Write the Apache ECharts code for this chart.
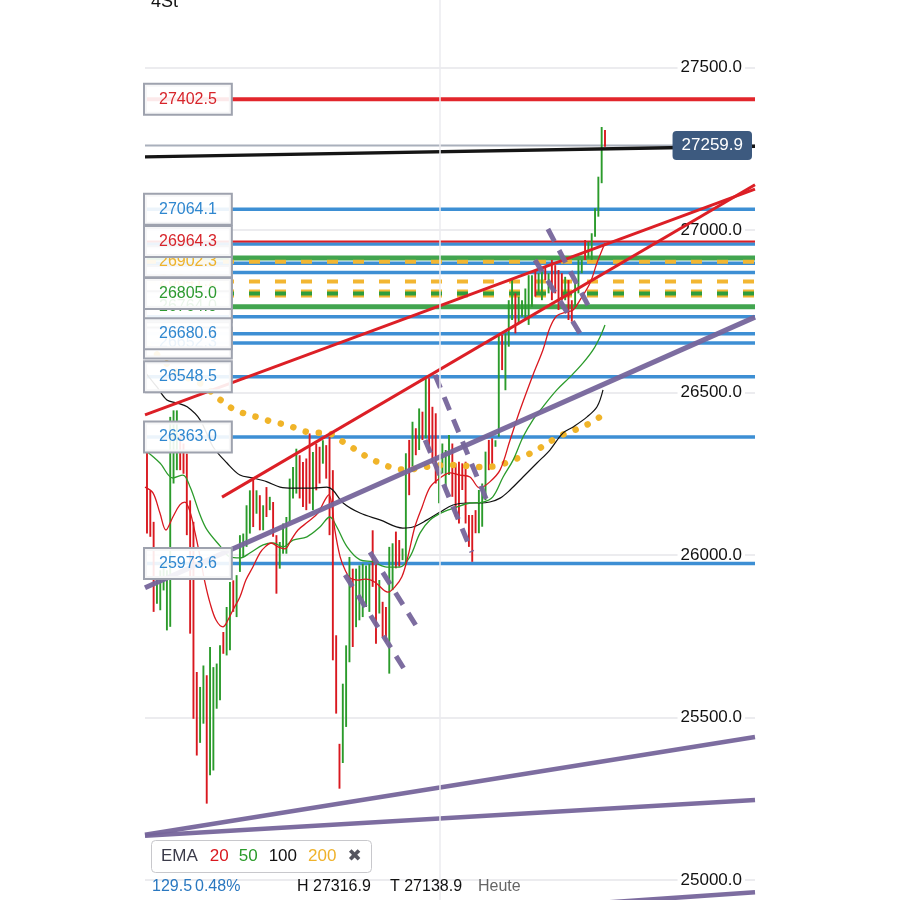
<!DOCTYPE html>
<html><head><meta charset="utf-8">
<script src="https://cdn.jsdelivr.net/npm/echarts@6/dist/echarts.min.js"></script>
<style>html,body{margin:0;padding:0;background:#fff}#c{width:900px;height:900px}</style>
</head><body><div id="c"></div>
<script>
const FONT = 'Helvetica, "Liberation Sans", Arial, sans-serif';
const RED = '#d9181f', GREEN = '#2b9b2b';

// ---- price bars (4h): high, low, up(1)/down(0)
const barHigh = [26322,26199,26102,25932,25953,25973,25953,26425,26445,26445,26374,26343,26312,26168,26102,25640,25594,25660,25630,25717,25655,25666,25722,25763,25840,25917,25922,25938,26061,26066,26153,26199,26240,26199,26184,26153,26209,26179,26163,26061,26040,26097,26117,26235,26271,26327,26307,26286,26297,26374,26317,26343,26333,26353,26338,26363,26261,25753,25419,25604,25722,25994,25958,25958,25968,25973,25968,25973,26076,25973,25923,25856,25840,26025,26036,26072,26046,26020,26313,26354,26410,26390,26451,26441,26549,26544,26456,26436,26256,26343,26323,26369,26343,26282,26287,26282,26287,26123,26123,26138,26200,26220,26318,26354,26359,26353,26677,26677,26682,26784,26846,26805,26795,26784,26820,26861,26861,26877,26867,26887,26887,26867,26908,26892,26877,26867,26856,26846,26784,26836,26908,26908,26969,26964,26990,27067,27164,27317,27308];
const barLow  = [26066,26056,25825,25850,25830,25891,25768,25779,26220,26261,26261,26250,26061,25758,25496,25383,25422,25481,25235,25322,25337,25527,25553,25696,25691,25707,25825,25809,25948,25994,26025,26066,26086,26127,26076,26076,26117,26138,26056,25881,25958,26004,26004,26102,26174,26189,26174,26148,26138,26158,26138,26199,26220,26281,26235,26061,25676,25512,25281,25360,25471,25670,25717,25778,25799,25809,25840,25825,25902,25727,25820,25748,25733,25635,25892,25959,25964,25984,25974,26184,26272,26307,26323,26354,26359,26318,26282,26220,26159,26251,26200,26246,26179,26118,26097,26200,26097,26025,25979,26067,26067,26087,26169,26261,26272,26333,26364,26569,26507,26641,26723,26682,26713,26733,26723,26708,26764,26795,26805,26784,26846,26805,26784,26805,26754,26784,26784,26723,26718,26764,26805,26867,26908,26913,26908,26979,27041,27144,27256];
const barUp   = [0,0,0,1,1,1,1,1,1,1,0,0,0,0,0,0,1,1,0,1,1,1,1,0,1,1,0,1,1,1,1,1,0,1,0,1,0,1,0,0,1,1,1,1,1,1,0,0,0,0,1,0,0,1,0,0,0,0,0,1,1,1,0,1,1,1,1,1,0,0,1,0,0,1,1,0,0,1,1,0,1,0,1,0,1,0,0,0,1,1,1,1,0,0,0,0,0,0,0,0,1,1,1,0,0,1,1,0,1,1,1,0,1,1,1,1,1,0,1,1,0,1,0,0,0,0,1,0,0,1,1,1,0,1,1,1,1,1,0];

// ---- EMA curves: [bar position, value]
const ema20 = [[-0.6,26209],[1.8,26191],[3.9,26129],[5.7,26077],[7.8,26117],[9.9,26154],[11.4,26163],[13,26132],[14.5,26068],[16,25994],[17.5,25914],[19,25852],[20.8,25800],[22.9,25779],[24.4,25800],[25.9,25831],[28,25871],[29.8,25923],[31.9,25963],[34,26006],[35.6,26025],[37.4,26037],[39.5,26025],[41.6,26019],[43.4,26046],[45.5,26077],[48.5,26102],[51.5,26129],[53.6,26169],[54.8,26185],[55.7,26154],[56.6,26077],[58.2,25994],[59.7,25954],[61.2,25929],[63.6,25923],[65.7,25926],[67.5,25923],[69,25914],[72.6,25886],[74.7,25902],[76.8,25933],[78.6,25994],[80.7,26086],[82.9,26148],[85.3,26209],[88.3,26237],[91.3,26253],[94.3,26246],[97.3,26240],[100.3,26206],[103.3,26225],[106.4,26262],[109.4,26354],[112.4,26446],[116.3,26554],[119.3,26631],[121.4,26699],[123.5,26736],[126.5,26748],[128.4,26754],[130.5,26785],[133.5,26837],[135.6,26899],[138,26960]];
const ema50 = [[-0.6,26323],[3.9,26283],[7.8,26237],[10.8,26246],[13,26209],[16,26123],[18.1,26077],[22,26028],[25,25994],[28,25991],[31,26006],[35,26031],[38,26037],[41,26025],[44,26046],[48.2,26056],[52.1,26086],[55.1,26117],[57.2,26086],[60.3,26025],[64.2,25985],[68.1,25979],[72.3,25963],[76.2,25963],[79.2,25994],[82.3,26068],[85.3,26108],[89.2,26132],[93.4,26148],[97.3,26160],[101.2,26163],[104.2,26179],[107.3,26240],[110.3,26292],[113.3,26363],[116.3,26416],[119.3,26456],[123.5,26508],[127.5,26548],[131.4,26591],[134.4,26631],[136.5,26671],[138,26708]];
const ema100 = [[-0.6,26563],[3,26517],[6,26477],[9,26468],[12.1,26456],[16,26416],[19.9,26333],[24.1,26283],[28,26246],[31.9,26237],[36.2,26225],[40.1,26209],[44,26206],[50,26206],[54.2,26209],[56,26200],[59.1,26160],[64.2,26129],[70.2,26108],[77.1,26083],[80.1,26086],[84.4,26108],[88.3,26132],[92.2,26154],[96.4,26160],[100.3,26160],[103.3,26163],[106.4,26175],[109.4,26200],[113.3,26240],[117.5,26283],[121.4,26323],[125.3,26375],[128.4,26394],[132.6,26425],[135.6,26456],[137.4,26508]];
const ema200 = [[0.3,26646],[5.4,26594],[10.5,26554],[16.9,26523],[21.1,26486],[25,26455],[28.9,26437],[34,26422],[38,26409],[42.2,26400],[46.1,26385],[50,26376],[54.2,26376],[58.1,26354],[62.1,26329],[66.3,26302],[70.2,26283],[74.1,26268],[78.3,26262],[82.3,26268],[86.2,26274],[90.4,26277],[94.3,26277],[98.2,26271],[102.4,26271],[106.4,26277],[110.3,26293],[114.5,26308],[118.4,26329],[122.3,26354],[126.5,26376],[130.5,26391],[133.5,26406],[136.5,26425]];

// ---- horizontal levels (value, kind) drawn in this order
const levelValues = [27402.5,27259.9,27064.1,26957,26964.3,26898,26914,26902.3,26869,26841.2,26805.0,26805.0,26764.0,26733,26680.6,26652.3,26548.5,26363.0,25973.6];
const levelKinds  = ['red','price','blue','blue','redThin','blue','green','orangeDash','blue','orangeDash','orangeDashWide','greenDash','green','blue','blue','blue','blue','blue','blue'];

// ---- left label boxes (drawn in this order, later on top)
const boxValues = [26841.2,26652.3,26764.0,26902.3,26964.3,26805.0,26680.6,27402.5,27064.1,26548.5,26363.0,25973.6];
const boxKinds  = ['orange','blue','green','orange','red','green','blue','red','blue','blue','blue','blue'];

const lastPrice = 27259.9;

// ---- trend lines: [start, end] as [bar position, value]
const trendBlack   = [[-0.6,27225],[183.2,27258]];
const trendRed1    = [[-0.6,26431],[183.2,27126]];
const trendRed2    = [[22.6,26178],[183.2,27139]];
const trendPurple1 = [[-0.6,25899],[183.2,26732]];
const trendPurple2 = [[-0.6,25139],[183.2,25440]];
const trendPurple3 = [[-0.6,25136],[183.2,25246]];
const trendPurple4 = [[130,24925],[183.2,24962]];
const dashD1 = [[120.8,27003],[134.1,26745]];
const dashD2 = [[116.9,26908],[131.1,26671]];
const dashM1 = [[86.8,26554],[103.3,26145]];
const dashM2 = [[83.8,26354],[97.9,26009]];
const dashL1 = [[59.7,25939],[78.6,25631]];
const dashL2 = [[67.2,26009],[81.3,25779]];

const sessionBreak = 88.3;

// ---------------------------------------------------------------
const X_MIN = -0.6, X_MAX = 183.2;
const LEVEL_STYLE = {
  red:            {color:'#e2262c', width:4},
  redThin:        {color:'#dc1f26', width:2},
  price:          {color:'#a9b0bc', width:2},
  blue:           {color:'#3d8fd4', width:3.5},
  green:          {color:'rgba(40,152,55,0.88)', width:5},
  orangeDash:     {color:'#f2b632', width:4, type:[11,15]},
  orangeDashWide: {color:'#f2b632', width:8, type:[11,15]},
  greenDash:      {color:'#2e9d3c', width:4, type:[11,15]}
};
const BOX_COLOR = {red:'#d7252b', blue:'#2f87cf', orange:'#efb22b', green:'#2d9a30'};
const PURPLE = 'rgba(118,101,155,0.95)';

const series = [];
levelValues.forEach((v, k) => {
  const s = LEVEL_STYLE[levelKinds[k]];
  series.push({type:'line', data:[[X_MIN, v],[X_MAX, v]], symbol:'none', silent:true, z:1,
    lineStyle:{color:s.color, width:s.width, type:s.type || 'solid'}, animation:false});
});
series.push({type:'line', data:[], z:1, silent:true, animation:false,
  markLine:{silent:true, symbol:'none', label:{show:false}, lineStyle:{color:'#ebebef', width:1.5, type:'solid'},
    data:[{xAxis: sessionBreak}]}});

series.push({
  type:'custom', z:2, clip:true, animation:false,
  data: barHigh.map((h, i) => [i, barLow[i], h, barUp[i]]),
  encode:{x:0, y:[1,2]},
  renderItem:(params, api) => {
    const i = api.value(0);
    const a = api.coord([i, api.value(1)]);
    const b = api.coord([i, api.value(2)]);
    return {type:'line', shape:{x1:a[0], y1:a[1], x2:b[0], y2:b[1]},
      style:{stroke: api.value(3) ? GREEN : RED, lineWidth:1.9}};
  }
});

function curve(data, color, width, type, cap) {
  series.push({type:'line', data, smooth:0.35, symbol:'none', z:3, silent:true, animation:false,
    lineStyle:{color, width, type: type || 'solid', cap: cap || 'butt'}});
}
curve(ema200, '#f0b429', 6.5, [0.1, 13], 'round');
curve(ema100, '#111111', 1.2);
curve(ema50, GREEN, 1.3);
curve(ema20, RED, 1.3);

function seg(data, color, width, type) {
  series.push({type:'line', data, symbol:'none', z:4, silent:true, animation:false,
    lineStyle:{color, width, type: type || 'solid'}});
}
seg(trendBlack, '#151515', 3.5);
seg(trendRed1, '#dc1f26', 3);
seg(trendRed2, '#dc1f26', 3);
seg(trendPurple1, PURPLE, 5);
seg(trendPurple2, PURPLE, 4.5);
seg(trendPurple3, PURPLE, 4.5);
seg(trendPurple4, PURPLE, 4.5);
[dashD1, dashD2, dashM1, dashM2, dashL1, dashL2].forEach(d => seg(d, PURPLE, 5, [14, 10]));

boxValues.forEach((v, k) => {
  series.push({type:'scatter', data:[[X_MIN, v]], symbolSize:0, z:10 + k, silent:true, animation:false,
    itemStyle:{opacity:1},
    label:{show:true, position:'right', distance:0, formatter:() => v.toFixed(1),
      color:BOX_COLOR[boxKinds[k]], fontSize:16, fontFamily:FONT, opacity:1,
      backgroundColor:'rgba(255,255,255,0.9)', borderColor:'#9ea2ae', borderWidth:2,
      padding:[6,14,5,14], lineHeight:18}});
});
series.push({type:'scatter', data:[[X_MAX, lastPrice]], symbolSize:0, z:30, silent:true, animation:false,
  itemStyle:{opacity:1},
  label:{show:true, position:'left', distance:3, formatter:() => lastPrice.toFixed(1), opacity:1,
    color:'#fff', fontSize:17, fontFamily:FONT, backgroundColor:'#3d5a7f', borderRadius:4,
    padding:[5,9,5,9], lineHeight:19}});

const btm = (text, left, color) => ({text, left, top:879, padding:0,
  textStyle:{fontSize:16, fontWeight:'normal', color, fontFamily:FONT}});
const rs = (color, pad, extra) => Object.assign({color, fontSize:17, fontWeight:'normal', fontFamily:FONT, padding:[0,0,0,pad]}, extra || {});

const option = {
  animation:false,
  backgroundColor:'#fff',
  title:[
    {text:'4St', left:151, top:-7, padding:0, textStyle:{fontSize:18, fontWeight:'normal', color:'#111', fontFamily:FONT}},
    {text:'{e|EMA}{r|20}{g|50}{k|100}{o|200}{x|✖}', left:151, top:840,
      backgroundColor:'#fff', borderColor:'#c8c8cc', borderWidth:1, borderRadius:4, padding:[6,10,6,10],
      textStyle:{fontSize:17, fontWeight:'normal', fontFamily:FONT, lineHeight:21, rich:{
        e:rs('#3b3b4a', 0),
        r:rs('#d9181f', 12),
        g:rs('#2b9b2b', 10),
        k:rs('#111', 11),
        o:rs('#efb22b', 11),
        x:rs('#55555f', 11, {fontFamily:'DejaVu Sans', fontWeight:'bold'})
      }}},
    btm('129.5', 152, '#2a78c0'),
    btm('0.48%', 195, '#2a78c0'),
    btm('H 27316.9', 297, '#111'),
    btm('T 27138.9', 390, '#111'),
    btm('Heute', 478, '#666')
  ],
  grid:{left:145, right:145, top:-95, bottom:-142.5, containLabel:false, outerBoundsMode:'none'},
  xAxis:{type:'value', min:X_MIN, max:X_MAX, show:false},
  yAxis:{type:'value', position:'right', min:24500, max:28000, interval:500,
    axisLine:{show:false}, axisTick:{show:false},
    splitLine:{show:true, lineStyle:{color:'#e6e6ea', width:1.5}},
    axisLabel:{inside:true, margin:10, formatter:v => v.toFixed(1), color:'#111', fontSize:17,
      fontFamily:FONT, backgroundColor:'#fff', padding:[1,3]}},
  series
};
const chart = echarts.init(document.getElementById('c'), null, {renderer:'canvas'});
chart.setOption(option);
</script></body></html>
